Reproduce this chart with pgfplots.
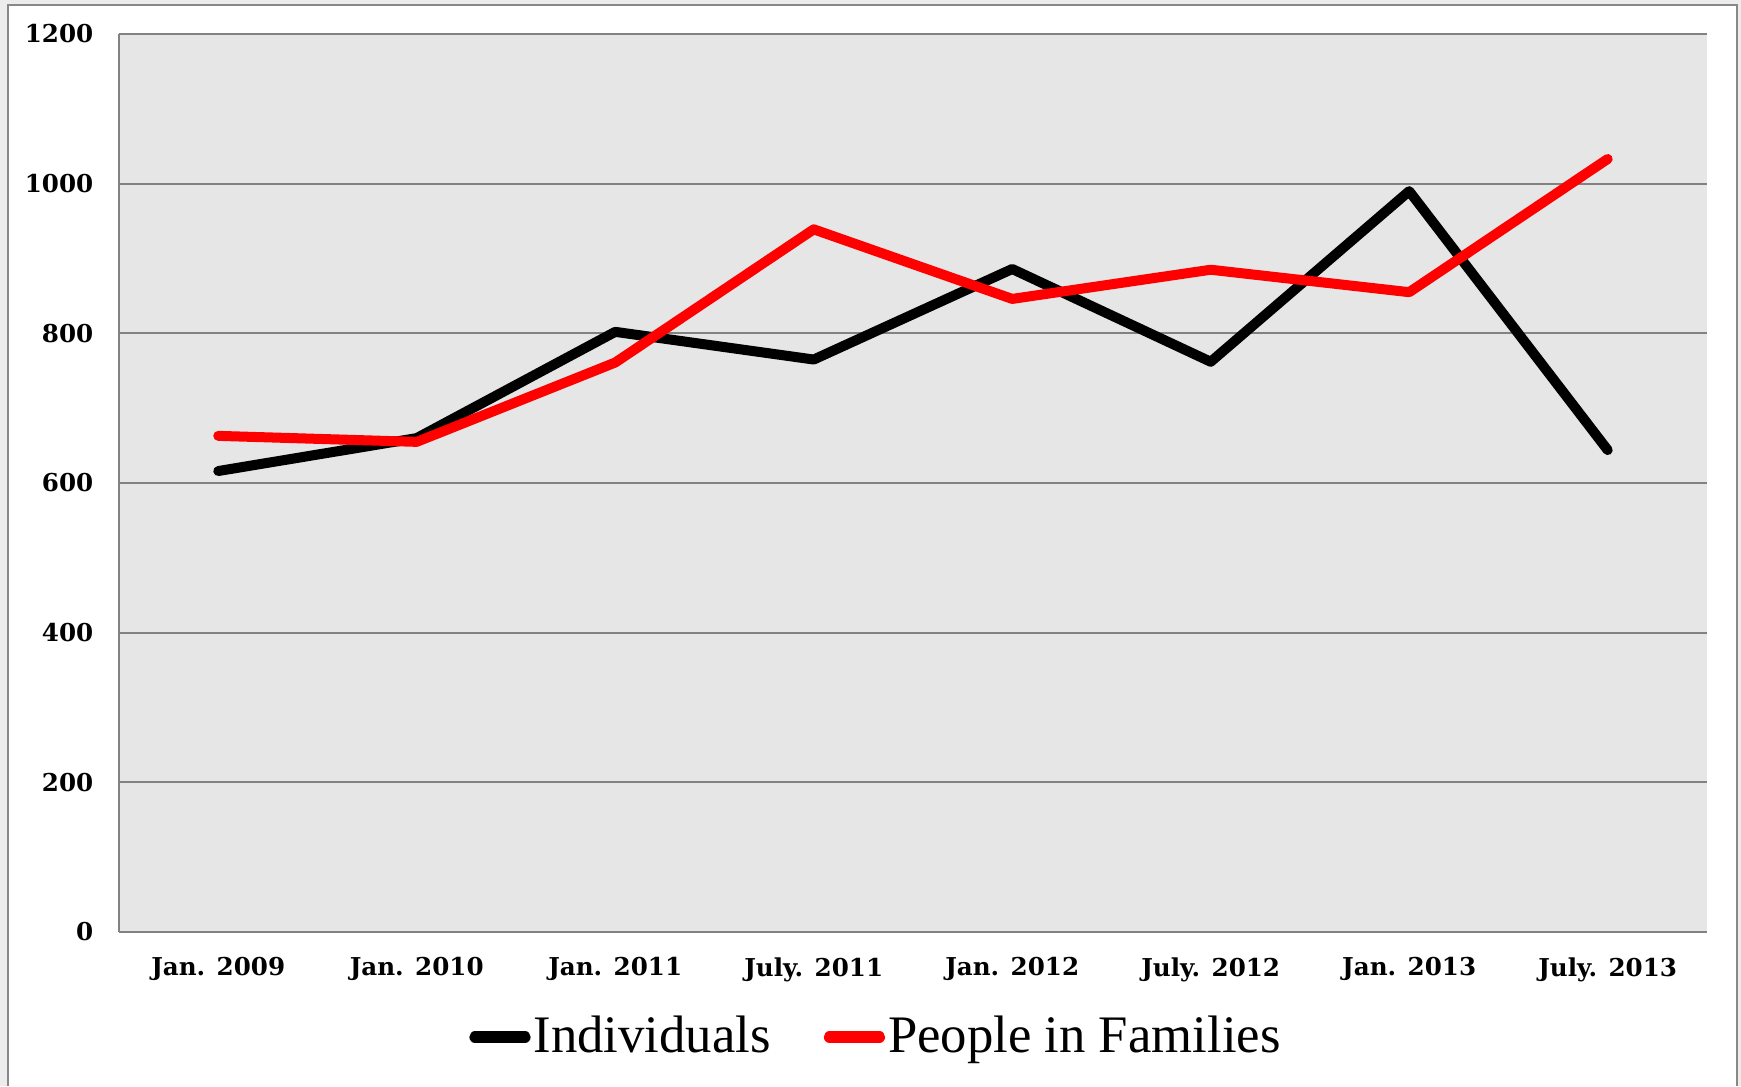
\documentclass[border=0pt]{standalone}
\usepackage{pgfplots}
\pgfplotsset{compat=1.18}
\usepackage{fontspec}
\setmainfont{Liberation Serif}
\newfontfamily\tickfont{DejaVu Serif}
\definecolor{plotbg}{RGB}{230,230,230}
\definecolor{gridc}{RGB}{130,130,130}
\definecolor{outerbg}{RGB}{236,236,236}
\definecolor{framec}{RGB}{136,136,136}
\begin{document}
\begin{tikzpicture}[x=0.1mm,y=0.1mm]
\useasboundingbox (0,0) rectangle (1741,1086);
\fill[outerbg] (0,0) rectangle (1741,1086);
\fill[white] (8,0) rectangle (1737,1081);
\draw[framec, line width=0.2mm] (8,0) -- (8,1081) -- (1737,1081) -- (1737,0);
\begin{axis}[
  scale only axis, width=158.8mm, height=89.8mm,
  at={(11.9mm,15.4mm)}, anchor=south west,
  xmin=-0.5, xmax=7.5, ymin=0, ymax=1200,
  xtick={0,...,7},
  xticklabels={Jan. 2009, Jan. 2010, Jan. 2011, July. 2011, Jan. 2012, July. 2012, Jan. 2013, July. 2013},
  ytick={0,200,...,1200},
  yticklabels={0,200,400,600,800,1000,1200},
  /pgf/number format/assume math mode=true,
  ymajorgrids,
  grid style={gridc, line width=0.55pt},
  axis background/.style={fill=plotbg},
  axis x line*=bottom, axis y line*=left,
  axis line style={-, gridc, line width=0.6pt},
  major tick length=0pt,
  tick style={draw=none},
  ticklabel style={font=\tickfont\bfseries\fontsize{7}{8}\selectfont, inner sep=0pt},
  yticklabel style={anchor=east, xshift=-2.5mm},
  xticklabel style={anchor=north, yshift=-2.5mm},
  legend columns=2,
  legend style={at={(0.477,-0.117)}, anchor=center, draw=none, fill=none,
    font=\fontsize{15}{16}\selectfont, inner sep=0pt,
    nodes={inner sep=0.3mm},
    /tikz/every even column/.append style={column sep=5mm}},
  legend image code/.code={\draw[#1, line width=3.2pt, line cap=round] (0mm,0mm) -- (5mm,0mm);},
]
\addplot[black, line width=2.85pt, line join=round, line cap=round]
  coordinates {(0,616)(1,660)(2,802)(3,765)(4,886)(5,762)(6,990)(7,644)};
\addlegendentry{Individuals}
\addplot[red, line width=2.85pt, line join=round, line cap=round]
  coordinates {(0,663)(1,655)(2,761)(3,939)(4,846)(5,885)(6,855)(7,1033)};
\addlegendentry{People in Families}
\end{axis}
\end{tikzpicture}
\end{document}
